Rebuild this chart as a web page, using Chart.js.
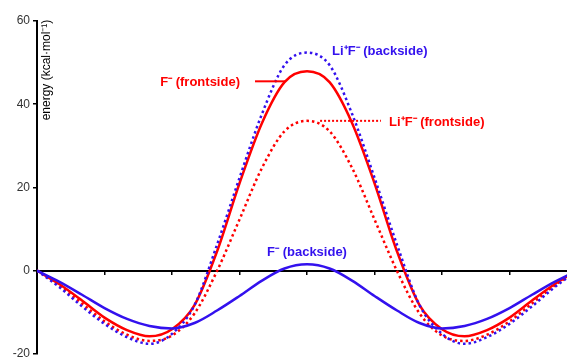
<!DOCTYPE html>
<html>
<head>
<meta charset="utf-8">
<script src="https://cdn.jsdelivr.net/npm/chart.js@4.4.0/dist/chart.umd.min.js"></script>
<style>
  html, body { margin: 0; padding: 0; background: #fff; }
  #wrap { width: 567px; height: 364px; }
</style>
</head>
<body>
<div id="wrap"><canvas id="energyChart" width="567" height="364"></canvas></div>
<script>
// torsion angle (deg) and relative energies (kcal/mol)
const angles = [0, 15, 30, 45, 60, 75, 90, 105, 120, 135, 150, 165, 180,
                195, 210, 225, 240, 255, 270, 285, 300, 315, 330, 345, 360];
const fBackside = [0, -2.7, -5.8, -9.0, -11.6, -13.3, -13.9, -12.6, -9.6, -6.1, -2.4, 0.5, 1.5,
                   0.5, -2.4, -6.1, -9.6, -12.6, -13.9, -13.3, -11.6, -9.0, -5.8, -2.7, 0];
const fFrontside = [0, -3.3, -7.2, -11.3, -14.3, -15.8, -14.1, -8.3, 4.6, 21.0, 35.5, 45.3, 47.9,
                    45.3, 35.5, 21.0, 4.6, -8.3, -14.1, -15.8, -14.3, -11.3, -7.2, -3.3, 0];
const liBackside = [0, -4.0, -8.6, -12.8, -16.0, -17.6, -15.2, -8.3, 6.2, 22.3, 37.7, 49.4, 52.4,
                    49.4, 37.7, 22.3, 6.2, -8.3, -15.2, -17.6, -16.0, -12.8, -8.6, -4.0, 0];
const liFrontside = [0, -3.6, -7.9, -12.2, -15.4, -16.9, -15.6, -10.3, -0.1, 12.3, 24.7, 33.5, 36.0,
                     33.5, 24.7, 12.3, -0.1, -10.3, -15.6, -16.9, -15.4, -12.2, -7.9, -3.6, 0];
const yTicks = [-20, 0, 20, 40, 60];

const RED = '#ff0000';
const BLUE = '#3311ee';

function pts(values) {
  return angles.map((a, i) => ({ x: a, y: values[i] }));
}

// axis title + curve labels with their leader lines
const labelPlugin = {
  id: 'curveLabels',
  afterDatasetsDraw(chart) {
    const ctx = chart.ctx;
    const xs = chart.scales.x, ys = chart.scales.y;
    const X = v => xs.getPixelForValue(v);
    const Y = v => ys.getPixelForValue(v);

    ctx.save();
    // y axis title sits inside the plot, next to the axis
    ctx.translate(47, 70);
    ctx.rotate(-Math.PI / 2);
    ctx.font = '12px "Liberation Sans", Arial, sans-serif';
    ctx.fillStyle = '#000';
    ctx.textAlign = 'center';
    ctx.textBaseline = 'middle';
    ctx.fillText('energy (kcal\u00b7mol\u207b\u00b9)', 0, 0);
    ctx.restore();

    ctx.save();
    ctx.font = 'bold 13px "Liberation Sans", Arial, sans-serif';
    ctx.textBaseline = 'middle';

    ctx.fillStyle = BLUE;
    ctx.textAlign = 'left';
    ctx.fillText('Li\u207aF\u207b (backside)', X(196.7), Y(52.6));

    ctx.textAlign = 'center';
    ctx.fillText('F\u207b (backside)', X(180), Y(4.3));

    ctx.fillStyle = RED;
    ctx.textAlign = 'right';
    ctx.fillText('F\u207b (frontside)', X(135.3), Y(45.3));

    ctx.textAlign = 'left';
    ctx.fillText('Li\u207aF\u207b (frontside)', X(234.7), Y(35.7));

    ctx.strokeStyle = RED;
    ctx.lineWidth = 2;
    ctx.beginPath();
    ctx.moveTo(X(145.3), Y(45.5));
    ctx.lineTo(X(165.3), Y(45.5));
    ctx.stroke();

    ctx.setLineDash([2, 2]);
    ctx.beginPath();
    ctx.moveTo(X(188.7), Y(36.0));
    ctx.lineTo(X(229.3), Y(36.0));
    ctx.stroke();
    ctx.restore();
  }
};

const ctx = document.getElementById('energyChart').getContext('2d');
const chart = new Chart(ctx, {
  type: 'line',
  data: {
    datasets: [
      { label: 'F\u207b (backside)', data: pts(fBackside), borderColor: BLUE, borderWidth: 2.5 },
      { label: 'Li\u207aF\u207b (backside)', data: pts(liBackside), borderColor: BLUE, borderWidth: 2.5, borderDash: [2.5, 3] },
      { label: 'Li\u207aF\u207b (frontside)', data: pts(liFrontside), borderColor: RED, borderWidth: 2.5, borderDash: [2.5, 3] },
      { label: 'F\u207b (frontside)', data: pts(fFrontside), borderColor: RED, borderWidth: 2.5 }
    ]
  },
  options: {
    responsive: false,
    animation: false,
    devicePixelRatio: 1,
    layout: { padding: { top: 21, bottom: 9, left: 0, right: 0 } },
    elements: {
      point: { radius: 0 },
      line: { cubicInterpolationMode: 'monotone', fill: false }
    },
    plugins: {
      legend: { display: false },
      tooltip: { enabled: false }
    },
    scales: {
      x: {
        type: 'linear',
        min: 0,
        max: 353.3,
        position: { y: 0 },
        afterBuildTicks: function(scale) {
          scale.ticks = scale.ticks.filter(t => t.value % 45 === 0);
        },
        ticks: { display: false, stepSize: 45 },
        grid: { drawOnChartArea: false, drawTicks: true, tickLength: 3, color: '#000', lineWidth: 1.5 },
        border: { display: true, color: '#000', width: 2 }
      },
      y: {
        min: -20,
        max: 60,
        afterBuildTicks: function(scale) {
          scale.ticks = yTicks.map(v => ({ value: v }));
        },
        afterFit: function(scale) {
          scale.width = 37;
        },
        ticks: {
          color: '#333',
          padding: 3,
          font: { family: '"Liberation Sans", Arial, sans-serif', size: 12 }
        },
        grid: { drawOnChartArea: false, tickLength: 4, color: '#000', lineWidth: 1.5 },
        border: { color: '#000', width: 2 }
      }
    }
  },
  plugins: [labelPlugin]
});
</script>
</body>
</html>
